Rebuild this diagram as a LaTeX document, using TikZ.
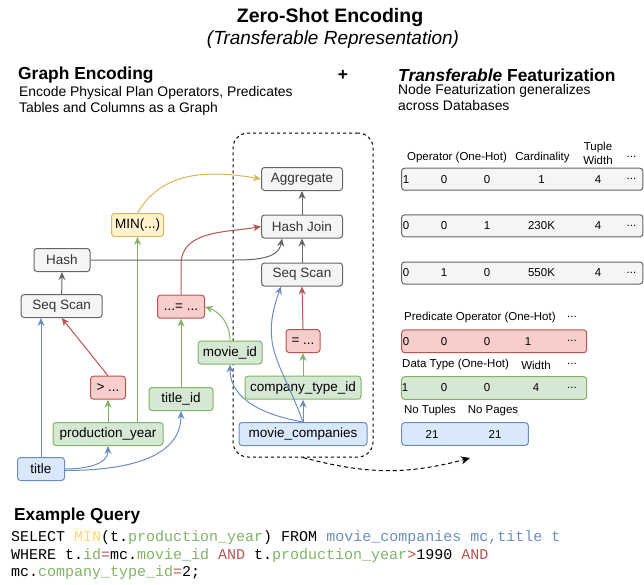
\documentclass[tikz,border=0pt]{standalone}
\usepackage{fontspec}
\setmainfont{Liberation Sans}
\setmonofont{Liberation Mono}
\usepackage{xcolor}
\usetikzlibrary{arrows.meta, positioning, calc}
\definecolor{opfill}{HTML}{F5F5F5}
\definecolor{opdraw}{HTML}{666666}
\definecolor{optext}{HTML}{333333}
\definecolor{aggfill}{HTML}{FFF2CC}
\definecolor{aggdraw}{HTML}{D6B656}
\definecolor{predfill}{HTML}{F8CECC}
\definecolor{preddraw}{HTML}{B85450}
\definecolor{colfill}{HTML}{D5E8D4}
\definecolor{coldraw}{HTML}{82B366}
\definecolor{tblfill}{HTML}{DAE8FC}
\definecolor{tbldraw}{HTML}{6C8EBF}
\definecolor{minyellow}{HTML}{FFD966}
\newcommand{\fsz}[2]{\fontsize{#1}{#2}\selectfont}
\newcommand{\featdots}{...}

\begin{document}
\begin{tikzpicture}[
  x=1pt, y=-1pt,
  base/.style={draw, rounded corners=3pt, minimum height=23pt, inner sep=2pt,
               line width=1pt, font=\fsz{13.5}{16}},
  opbox/.style={base, fill=opfill, draw=opdraw, text=optext},
  aggbox/.style={base, fill=aggfill, draw=aggdraw},
  predbox/.style={base, fill=predfill, draw=preddraw},
  colbox/.style={base, fill=colfill, draw=coldraw},
  tblbox/.style={base, fill=tblfill, draw=tbldraw},
  featrow/.style={base, fill=opfill, draw=opdraw, minimum width=241.3pt, minimum height=22pt},
  groupbox/.style={draw, dash pattern=on 3pt off 3pt, line width=1pt, rounded corners=15pt},
  arrow/.style={-{Stealth[length=8pt,width=7pt]}, line width=1pt},
  txt/.style={inner sep=0pt},
  lb/.style={inner sep=0pt, font=\fsz{11.5}{14}},
  val/.style={inner sep=0pt, font=\fsz{11.5}{14}}
]
\useasboundingbox (0,0) rectangle (644,584);

% ── Headings ─────────────────────────────────────────────────────────────────
\node[txt, font=\bfseries\fsz{19.5}{23}] (heading) at (330,17) {Zero-Shot Encoding};
\node[txt, font=\itshape\fsz{19}{23}] (subheading) at (333,40) {(Transferable Representation)};

\node[txt, anchor=west, font=\bfseries\fsz{17.4}{20}] (graphhead) at (18,75) {Graph Encoding};
\node[txt, anchor=west, align=left, font=\fsz{13.9}{16}] (graphdesc) at (19,101)
  {Encode Physical Plan Operators, Predicates\\Tables and Columns as a Graph};
\node[txt, font=\bfseries\fsz{17.4}{20}] (plus) at (343,75) {+};
\node[txt, anchor=west, font=\bfseries\fsz{17.4}{20}] (feathead) at (398,75)
  {\textit{Transferable} Featurization};
\node[txt, anchor=west, align=left, font=\fsz{13.9}{16}] (featdesc) at (398,98)
  {Node Featurization generalizes\\across Databases};

% ── Plan group ───────────────────────────────────────────────────────────────
\node[groupbox, minimum width=140pt, minimum height=324pt] (group) at (303,295) {};

% ── Nodes ────────────────────────────────────────────────────────────────────
\node[opbox, minimum width=81pt] (agg) at (302,179) {Aggregate};
\node[opbox, minimum width=81pt, below=23.5pt of agg] (hjoin) {Hash Join};
\node[opbox, minimum width=81pt, below=24pt of hjoin] (sscanR) {Seq Scan};

\node[predbox, minimum width=34pt] (eqctype) at (303,341) {= ...};
\node[colbox, minimum width=116pt] (ctype) at (303,387.7) {company\_type\_id};
\node[tblbox, minimum width=128pt] (mcomp) at (303,434) {movie\_companies};

\node[colbox, minimum width=64pt] (movieid) at (230,352.5) {movie\_id};
\node[colbox, minimum width=64pt] (titleid) at (181,399) {title\_id};
\node[predbox, minimum width=47pt] (eqjoin) at (181,306.7) {...= ...};

\node[aggbox, minimum width=52pt] (minf) at (137.5,225) {MIN(...)};
\node[opbox, minimum width=56pt] (hash) at (62,260) {Hash};
\node[opbox, minimum width=81pt] (sscanL) at (61.7,306) {Seq Scan};
\node[predbox, minimum width=35pt] (gtpred) at (108,387.7) {> ...};
\node[colbox, minimum width=110pt] (pyear) at (108,434) {production\_year};
\node[tblbox, minimum width=47pt] (tbltitle) at (41,469) {title};

% ── Arrows ───────────────────────────────────────────────────────────────────
% table title
\draw[arrow, tbldraw] (tbltitle.north) -- (tbltitle.north |- sscanL.south);
\draw[arrow, tbldraw] (tbltitle.east) to[out=0, in=-90] (pyear.south);
\draw[arrow, tbldraw] ([yshift=-1.5pt]tbltitle.east) to[out=0, in=-90] (titleid.south);

% predicates on title
\draw[arrow, preddraw] (gtpred.north) -- (sscanL.south);
\draw[arrow, coldraw] (pyear.north) -- (gtpred.south);
\draw[arrow, coldraw] (pyear.north -| minf.south) -- (minf.south);

% join predicate
\draw[arrow, coldraw] (titleid.north) -- (eqjoin.south);
\draw[arrow, coldraw] (movieid.north) to[out=90, in=-20] (eqjoin.east);
\draw[arrow, preddraw] (eqjoin.north) -- ++(0,-30) to[out=90, in=190] (hjoin.west);

% table movie_companies
\draw[arrow, tbldraw] (mcomp.north) to[out=170, in=-90] (movieid.south);
\draw[arrow, tbldraw] (mcomp.north) -- (ctype.south);
\draw[arrow, tbldraw] (mcomp.north) to[out=110, in=-110, looseness=1.2] ([xshift=-21pt]sscanR.south);
\draw[arrow, coldraw] (ctype.north) -- (eqctype.south);
\draw[arrow, preddraw] (eqctype.north) -- (sscanR.south);

% plan operators
\draw[arrow, opdraw] (sscanR.north) -- (hjoin.south);
\draw[arrow, opdraw] (hjoin.north) -- (agg.south);
\draw[arrow, opdraw] (sscanL.north) -- (hash.south);
\draw[arrow, opdraw] (hash.east) -- ([xshift=-30pt]hash.east -| hjoin.west)
  to[out=0, in=-100] ([xshift=-20pt]hjoin.south);
\draw[arrow, aggdraw] (minf.north) to[out=60, in=170] (agg.west);

% group → features
\coordinate (featin) at (470,458);
\draw[-{Stealth[length=9pt,width=8pt]}, dash pattern=on 4pt off 3pt, line width=1pt]
  (group.south) to[out=-15, in=195] (featin);

% ── Featurization ────────────────────────────────────────────────────────────
\node[lb] (hdop) at (457,158) {Operator (One-Hot)};
\node[lb] (hdcard) at (542.5,158) {Cardinality};
\node[lb, align=center] (hdwidth) at (598,153) {Tuple\\Width};
\node[lb] (hddots) at (631.5,157) {\featdots};

\foreach \r/\y/\a/\b/\c/\card in {agg/179.2/1/0/0/1, join/225.8/0/0/1/230K, scan/273/0/1/0/550K} {
  \node[featrow] (row\r) at (522.3,\y) {};
  \foreach \x/\v [count=\i] in {406/\a, 444/\b, 487/\c, 541.5/\card, 598/4, 631.5/\featdots}
    \node[val] (row\r-\i) at (\x,\y) {\v};
}

\node[lb, anchor=west] (hdpred) at (404,318) {Predicate Operator (One-Hot)};
\node[lb] (hdpreddots) at (572,317) {\featdots};
\node[predbox, minimum width=185pt, minimum height=22.7pt] (rowpred) at (494.2,341.3) {};
\foreach \x/\v [count=\i] in {406/0, 444/0, 487/0, 528/1, 572/\featdots}
  \node[val] (rowpred-\i) at (\x,341.3) {\v};

\node[lb, anchor=west] (hdtype) at (402,365) {Data Type (One-Hot)};
\node[lb] (hdtypew) at (536,365) {Width};
\node[lb] (hdtypedots) at (572,364) {\featdots};
\node[colbox, minimum width=185pt, minimum height=22.7pt] (rowcol) at (494.2,388) {};
\foreach \x/\v [count=\i] in {405/1, 444/0, 487/0, 536/4, 572/\featdots}
  \node[val] (rowcol-\i) at (\x,388) {\v};

\node[lb] (hdtuples) at (430,411) {No Tuples};
\node[lb] (hdpages) at (493,411) {No Pages};
\node[tblbox, minimum width=126.6pt, minimum height=22.7pt] (rowtbl) at (465,434) {};
\foreach \x/\v [count=\i] in {432/21, 495/21}
  \node[val] (rowtbl-\i) at (\x,434) {\v};

% ── Example query ────────────────────────────────────────────────────────────
\node[txt, anchor=west, font=\bfseries\fsz{17.3}{20}] (queryhead) at (14,516) {Example Query};
\node[txt, anchor=west, font=\ttfamily\fsz{15}{17.5}] (query1) at (11,538)
  {SELECT \textcolor{minyellow}{MIN}(t.\textcolor{coldraw}{production\_year}) FROM \textcolor{tbldraw}{movie\_companies mc,title t}};
\node[txt, anchor=west, font=\ttfamily\fsz{15}{17.5}] (query2) at (11,556)
  {WHERE t.\textcolor{coldraw}{id}\textcolor{preddraw}{=}mc.\textcolor{coldraw}{movie\_id} \textcolor{preddraw}{AND} t.\textcolor{coldraw}{production\_year}\textcolor{preddraw}{>}1990 \textcolor{preddraw}{AND}};
\node[txt, anchor=west, font=\ttfamily\fsz{15}{17.5}] (query3) at (11,573)
  {mc.\textcolor{coldraw}{company\_type\_id}\textcolor{preddraw}{=}2;};

\end{tikzpicture}
\end{document}
